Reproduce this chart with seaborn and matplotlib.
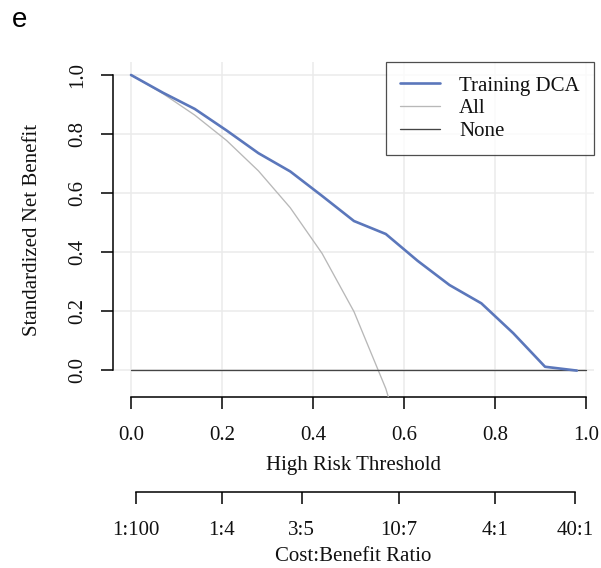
import matplotlib
matplotlib.use("Agg")
import matplotlib.pyplot as plt
import seaborn as sns
import pandas as pd

# ---- data ----
thresholds = [0.00, 0.07, 0.14, 0.21, 0.28, 0.35, 0.42, 0.49, 0.56, 0.63, 0.70, 0.77, 0.84, 0.91, 0.98]
training_dca = [1.000, 0.940, 0.885, 0.812, 0.735, 0.673, 0.590, 0.505, 0.461, 0.370, 0.288, 0.226, 0.125, 0.011, -0.002]
treat_all = [1.000, 0.937, 0.864, 0.778, 0.675, 0.550, 0.395, 0.198, -0.063, -0.422, -0.948, -1.795, -3.384, -7.443, -39.9]
none_x = [0.0, 1.0]
none_y = [0.0, 0.0]
x_ticks = [0.0, 0.2, 0.4, 0.6, 0.8, 1.0]
x_ticklabels = ["0.0", "0.2", "0.4", "0.6", "0.8", "1.0"]
y_ticks = [0.0, 0.2, 0.4, 0.6, 0.8, 1.0]
y_ticklabels = ["0.0", "0.2", "0.4", "0.6", "0.8", "1.0"]
cb_ticks = [1 / 101, 1 / 5, 3 / 8, 10 / 17, 4 / 5, 40 / 41]
cb_labels = ["1:100", "1:4", "3:5", "10:7", "4:1", "40:1"]
series_names = ["Training DCA", "All", "None"]

sns.set_style("white")
plt.rcParams["font.family"] = ["Liberation Serif", "DejaVu Serif"]

W, H = 601, 568
fig = plt.figure(figsize=(W / 100, H / 100), dpi=100)

# main axes (pixel geometry from reference)
L, R, T, B = 113, 594, 62, 397
ax = fig.add_axes([L / W, 1 - B / H, (R - L) / W, (B - T) / H])
ax.set_xlim(-0.0396, 1.0176)
ax.set_ylim(-0.0915, 1.044)

# grid
for v in x_ticks:
    ax.axvline(v, color="#ebebeb", lw=1.1, zorder=0)
for v in y_ticks:
    ax.axhline(v, color="#ebebeb", lw=1.1, zorder=0)

df_train = pd.DataFrame({"t": thresholds, "nb": training_dca})
df_all = pd.DataFrame({"t": thresholds, "nb": treat_all})
df_none = pd.DataFrame({"t": none_x, "nb": none_y})

sns.lineplot(data=df_train, x="t", y="nb", ax=ax, color="#5b77bb", lw=1.9,
             label=series_names[0], estimator=None, sort=False, zorder=4)
sns.lineplot(data=df_all, x="t", y="nb", ax=ax, color="#b8b8b8", lw=0.95,
             label=series_names[1], estimator=None, sort=False, zorder=3)
sns.lineplot(data=df_none, x="t", y="nb", ax=ax, color="#444444", lw=0.95,
             label=series_names[2], estimator=None, sort=False, zorder=3)

for s in ["top", "right"]:
    ax.spines[s].set_visible(False)
for s in ["left", "bottom"]:
    ax.spines[s].set_visible(True)
    ax.spines[s].set_color("black")
    ax.spines[s].set_linewidth(1.1)
ax.spines["left"].set_bounds(0, 1)
ax.spines["bottom"].set_bounds(0, 1)

ax.set_xticks(x_ticks)
ax.set_xticklabels(x_ticklabels)
ax.set_yticks(y_ticks)
ax.set_yticklabels(y_ticklabels, rotation=90, va="center")
ax.tick_params(axis="x", direction="out", length=8.6, width=1.1, color="black",
               labelsize=15, pad=12, bottom=True, labelcolor="#111111")
ax.tick_params(axis="y", direction="out", length=8.6, width=1.1, color="black",
               labelsize=15, pad=10, left=True, labelcolor="#111111")
ax.set_xlabel("High Risk Threshold", fontsize=15, labelpad=8, color="#111111")
ax.set_ylabel("Standardized Net Benefit", fontsize=15, labelpad=19, color="#111111")

leg = ax.legend(loc="upper right", borderaxespad=0, fontsize=15, frameon=True,
                fancybox=False, edgecolor="#222222", handlelength=1.95,
                handletextpad=0.9, labelspacing=0.15, borderpad=0.68)
leg.get_frame().set_linewidth(0.9)
for t in leg.get_texts():
    t.set_color("#111111")

# cost:benefit axis
yb = 492
ax2 = fig.add_axes([L / W, 1 - yb / H, (R - L) / W, 0.001])
ax2.set_xlim(ax.get_xlim())
ax2.patch.set_visible(False)
for s in ["top", "right", "left"]:
    ax2.spines[s].set_visible(False)
ax2.spines["bottom"].set_visible(True)
ax2.spines["bottom"].set_color("black")
ax2.spines["bottom"].set_linewidth(1.1)
ax2.spines["bottom"].set_bounds(cb_ticks[0], cb_ticks[-1])
ax2.set_yticks([])
ax2.set_xticks(cb_ticks)
ax2.set_xticklabels(cb_labels)
ax2.tick_params(axis="x", direction="out", length=8.6, width=1.1, color="black",
                labelsize=15, pad=12.5, bottom=True, labelcolor="#111111")
ax2.set_xlabel("Cost:Benefit Ratio", fontsize=15, labelpad=5, color="#111111")

fig.text(20 / W, 1 - 20 / H, "e", fontsize=20, family="Liberation Sans",
         ha="center", va="center", color="black")

fig.savefig("out.png", dpi=100)
